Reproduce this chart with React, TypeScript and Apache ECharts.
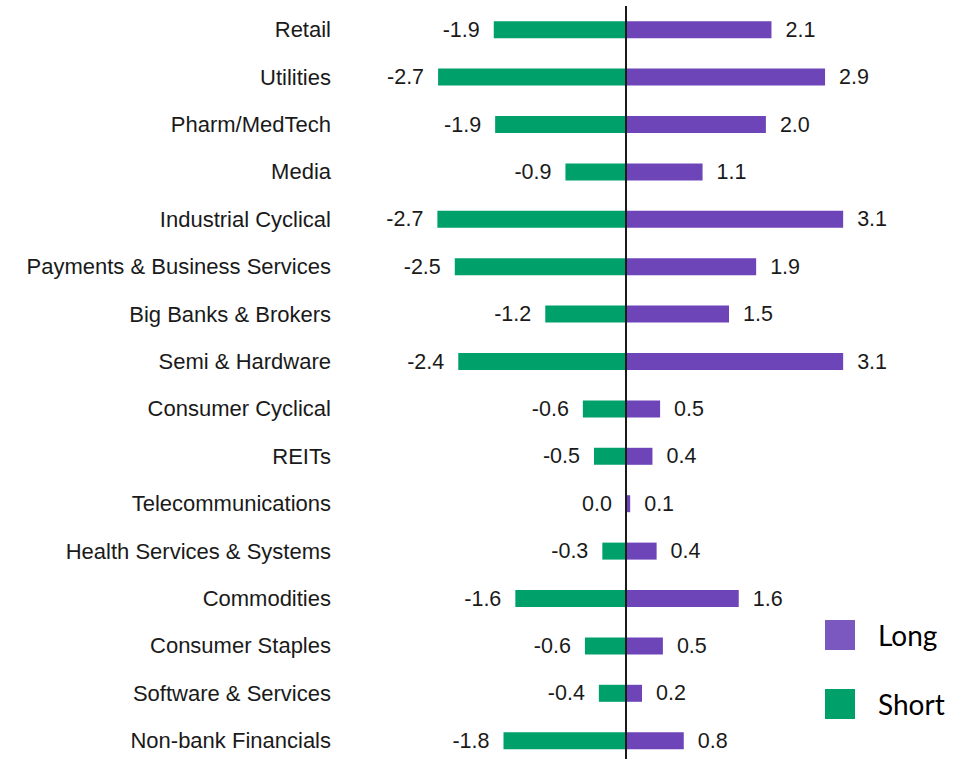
import React, { useEffect, useRef } from "react";
import * as echarts from "echarts";

const categories = [
  "Retail",
  "Utilities",
  "Pharm/MedTech",
  "Media",
  "Industrial Cyclical",
  "Payments & Business Services",
  "Big Banks & Brokers",
  "Semi & Hardware",
  "Consumer Cyclical",
  "REITs",
  "Telecommunications",
  "Health Services & Systems",
  "Commodities",
  "Consumer Staples",
  "Software & Services",
  "Non-bank Financials",
];

const longValues = [2.09, 2.86, 2.01, 1.1, 3.12, 1.87, 1.48, 3.12, 0.49, 0.38, 0.06, 0.44, 1.62, 0.53, 0.23, 0.83];
const shortValues = [-1.9, -2.7, -1.88, -0.87, -2.71, -2.46, -1.16, -2.41, -0.62, -0.46, 0.0, -0.34, -1.59, -0.59, -0.39, -1.76];

const seriesNames = ["Long", "Short"];

const PURPLE = "#6D45B8";
const GREEN = "#00A06A";
const TEXT = "#1a1a1a";
const FONT = "'Liberation Sans', Arial, sans-serif";

export default function App() {
  const ref = useRef<HTMLDivElement>(null);

  useEffect(() => {
    if (!ref.current) return;
    const chart = echarts.init(ref.current, null, { renderer: "svg" });
    const labelCommon = {
      show: true,
      distance: 14,
      fontFamily: FONT,
      fontSize: 21.5,
      color: TEXT,
      formatter: (p: any) => Number(p.value).toFixed(1),
    };
    chart.setOption({
      animation: false,
      backgroundColor: "#ffffff",
      grid: {
        left: 347.6,
        width: 556.8,
        top: 6,
        height: 758.4,
        containLabel: false,
        outerBoundsMode: "none",
      },
      xAxis: {
        type: "value",
        min: -4,
        max: 4,
        show: false,
      },
      yAxis: {
        type: "category",
        data: categories,
        inverse: true,
        axisLine: { show: false },
        axisTick: { show: false },
        splitLine: { show: false },
        axisLabel: {
          margin: 16.6,
          fontFamily: FONT,
          fontSize: 22,
          color: TEXT,
        },
      },
      legend: {
        orient: "vertical",
        left: 825,
        top: 620,
        padding: 0,
        icon: "rect",
        itemWidth: 30,
        itemHeight: 30,
        itemGap: 39,
        selectedMode: false,
        data: [
          { name: seriesNames[0], itemStyle: { color: "#7B57C0" } },
          { name: seriesNames[1], itemStyle: { color: GREEN } },
        ],
        textStyle: {
          fontFamily: "Lato, 'Open Sans', sans-serif",
          fontSize: 28,
          color: "#000000",
          padding: [0, 0, 0, 18],
        },
      },
      series: [
        {
          name: seriesNames[0],
          type: "bar",
          data: longValues,
          barWidth: 17,
          barGap: "-100%",
          itemStyle: { color: PURPLE },
          label: { ...labelCommon, position: "right" },
          markLine: {
            silent: true,
            symbol: "none",
            label: { show: false },
            lineStyle: { color: TEXT, width: 2, type: "solid" },
            data: [{ xAxis: 0 }],
          },
          z: 2,
        },
        {
          name: seriesNames[1],
          type: "bar",
          data: shortValues,
          barWidth: 17,
          barGap: "-100%",
          itemStyle: { color: GREEN },
          label: { ...labelCommon, position: "left" },
          z: 2,
        },
      ],
    });
    return () => chart.dispose();
  }, []);

  return (
    <div
      ref={ref}
      style={{ position: "absolute", left: 0, top: 0, width: 969, height: 759, background: "#fff" }}
    />
  );
}
